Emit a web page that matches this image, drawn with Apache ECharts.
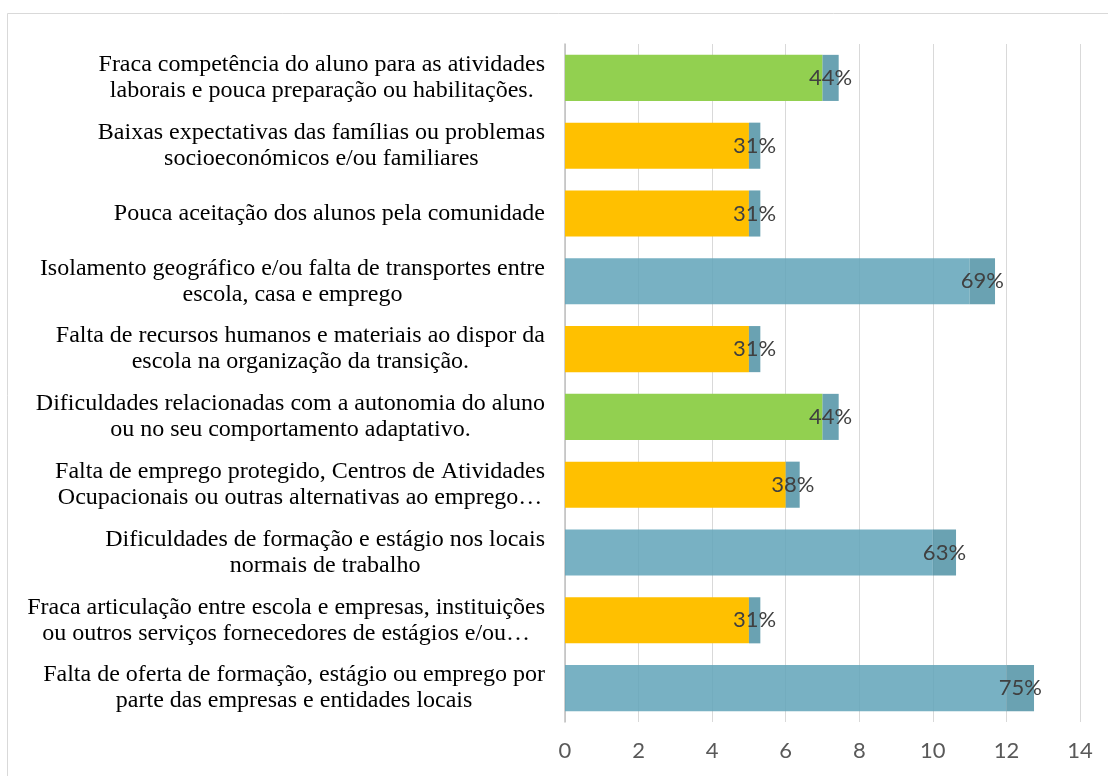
<!DOCTYPE html>
<html>
<head>
<meta charset="utf-8">
<script src="https://cdn.jsdelivr.net/npm/echarts@6/dist/echarts.min.js"></script>
<style>
  html, body { margin: 0; padding: 0; background: #fff; }
  #main { width: 1108px; height: 776px; }
</style>
</head>
<body>
<div id="main"></div>
<script>
var categories = [
  'Fraca competência do aluno para as atividades\nlaborais e pouca preparação ou habilitações.',
  'Baixas expectativas das famílias ou problemas\nsocioeconómicos e/ou familiares',
  'Pouca aceitação dos alunos pela comunidade',
  'Isolamento geográfico e/ou falta de transportes entre\nescola, casa e emprego',
  'Falta de recursos humanos e materiais ao dispor da\nescola na organização da transição.',
  'Dificuldades relacionadas com a autonomia do aluno\nou no seu comportamento adaptativo.',
  'Falta de emprego protegido, Centros de Atividades\nOcupacionais ou outras alternativas ao emprego…',
  'Dificuldades de formação e estágio nos locais\nnormais de trabalho',
  'Fraca articulação entre escola e empresas, instituições\nou outros serviços fornecedores de estágios e/ou…',
  'Falta de oferta de formação, estágio ou emprego por\nparte das empresas e entidades locais'
];
// respostas (n = 16)
var counts = [7, 5, 5, 11, 5, 7, 6, 10, 5, 12];
var percents = [44, 31, 31, 69, 31, 44, 38, 63, 31, 75];
var xTicks = [0, 2, 4, 6, 8, 10, 12, 14];

var chart = echarts.init(document.getElementById('main'));

function barColor(c) {
  if (c >= 10) return 'rgba(96,163,185,0.85)';
  if (c >= 7) return '#92d050';
  return '#ffc000';
}

var option = {
  backgroundColor: '#fff',
  animation: false,
  graphic: [{
    type: 'rect',
    shape: { x: 7.5, y: 13.5, width: 1110, height: 780 },
    style: { fill: null, stroke: '#d9d9d9', lineWidth: 1 },
    silent: true
  }],
  grid: { left: 565, right: 28, top: 44, bottom: 54, containLabel: false },
  xAxis: {
    type: 'value',
    min: xTicks[0],
    max: xTicks[xTicks.length - 1],
    interval: 2,
    axisLine: { show: false },
    axisTick: { show: false },
    splitLine: { show: true, lineStyle: { color: '#d9d9d9', width: 1 } },
    axisLabel: {
      color: '#595959',
      fontSize: 22,
      fontFamily: 'Lato, "Open Sans", sans-serif',
      margin: 18
    }
  },
  yAxis: {
    type: 'category',
    inverse: true,
    data: categories,
    axisLine: { show: true, lineStyle: { color: '#bfbfbf', width: 1.5 } },
    axisTick: { show: false },
    axisLabel: {
      margin: 20,
      align: 'right',
      formatter: function (v) {
        return v.split('\n').map(function (l) { return '{c|' + l + '}'; }).join('\n');
      },
      rich: {
        c: {
          align: 'center',
          color: '#000',
          fontSize: 24,
          lineHeight: 26,
          fontFamily: '"Liberation Serif", "Times New Roman", serif'
        }
      }
    }
  },
  series: [{
    type: 'bar',
    stack: 'a',
    barCategoryGap: '32%',
    data: counts.map(function (c) {
      return { value: c, itemStyle: { color: barColor(c) } };
    })
  }, {
    type: 'bar',
    stack: 'a',
    itemStyle: { color: 'rgba(80,146,165,0.85)' },
    label: {
      show: true,
      position: 'inside',
      color: '#404040',
      fontSize: 22,
      fontFamily: 'Lato, "Open Sans", sans-serif',
      formatter: function (p) { return percents[p.dataIndex] + '%'; }
    },
    data: percents.map(function (p) { return p / 100; })
  }]
};

chart.setOption(option);
</script>
</body>
</html>
